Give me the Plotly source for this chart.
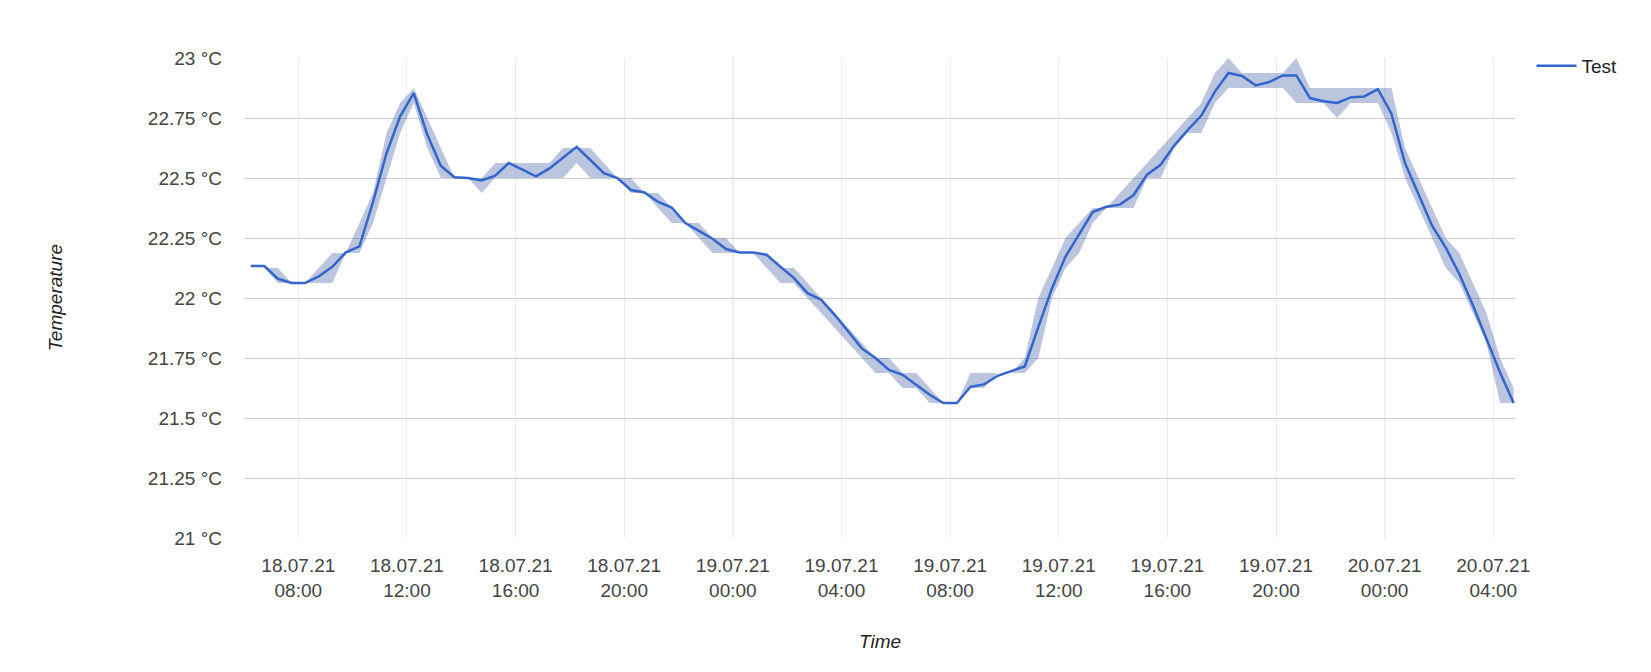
import pandas as pd
import plotly.graph_objects as go

start_time = "2021-07-18 06:15"
step = "30min"

avg_temp = [
    22.133, 22.133, 22.08, 22.0625, 22.0625, 22.09, 22.13, 22.19, 22.215, 22.40,
    22.604, 22.757, 22.854, 22.68, 22.55, 22.503, 22.50, 22.49, 22.51, 22.5625,
    22.535, 22.507, 22.54, 22.585, 22.63, 22.575, 22.52, 22.50, 22.45, 22.44,
    22.40, 22.377, 22.3125, 22.28, 22.247, 22.204, 22.19, 22.19, 22.18, 22.13,
    22.083, 22.02, 21.993, 21.93, 21.86, 21.79, 21.75, 21.70, 21.68, 21.64,
    21.597, 21.5625, 21.5625, 21.63, 21.64, 21.676, 21.694, 21.715, 21.88, 22.04,
    22.173, 22.264, 22.358, 22.38, 22.389, 22.428, 22.514, 22.555, 22.635, 22.70,
    22.76, 22.86, 22.9375, 22.925, 22.886, 22.90, 22.9275, 22.9275, 22.833, 22.82,
    22.8125, 22.836, 22.84, 22.87, 22.768, 22.5625, 22.43, 22.30, 22.21, 22.10,
    21.97, 21.83, 21.69, 21.5625,
]

min_temp = [
    22.125, 22.125, 22.0625, 22.0625, 22.0625, 22.0625, 22.0625, 22.1875, 22.1875, 22.3125,
    22.5, 22.6875, 22.8125, 22.625, 22.5, 22.5, 22.5, 22.4375, 22.5, 22.5,
    22.5, 22.5, 22.5, 22.5, 22.5625, 22.5, 22.5, 22.5, 22.4375, 22.4375,
    22.375, 22.3125, 22.3125, 22.25, 22.1875, 22.1875, 22.1875, 22.1875, 22.125, 22.0625,
    22.0625, 22.0, 21.9375, 21.875, 21.8125, 21.75, 21.6875, 21.6875, 21.625, 21.625,
    21.5625, 21.5625, 21.5625, 21.625, 21.625, 21.6875, 21.6875, 21.6875, 21.75, 22.0,
    22.125, 22.1875, 22.3125, 22.375, 22.375, 22.375, 22.5, 22.5, 22.625, 22.6875,
    22.6875, 22.8125, 22.875, 22.875, 22.875, 22.875, 22.875, 22.8125, 22.8125, 22.8125,
    22.75, 22.8125, 22.8125, 22.8125, 22.6875, 22.5, 22.375, 22.25, 22.125, 22.0625,
    21.9375, 21.8125, 21.5625, 21.5625,
]

max_temp = [
    22.125, 22.125, 22.125, 22.0625, 22.0625, 22.125, 22.1875, 22.1875, 22.3125, 22.4375,
    22.6875, 22.8125, 22.875, 22.75, 22.625, 22.5, 22.5, 22.5, 22.5625, 22.5625,
    22.5625, 22.5625, 22.5625, 22.625, 22.625, 22.625, 22.5625, 22.5, 22.5, 22.4375,
    22.4375, 22.375, 22.3125, 22.3125, 22.25, 22.25, 22.1875, 22.1875, 22.1875, 22.125,
    22.125, 22.0625, 22.0, 21.9375, 21.875, 21.8125, 21.75, 21.75, 21.6875, 21.6875,
    21.625, 21.5625, 21.5625, 21.6875, 21.6875, 21.6875, 21.6875, 21.75, 22.0, 22.125,
    22.25, 22.3125, 22.375, 22.375, 22.4375, 22.5, 22.5625, 22.625, 22.6875, 22.75,
    22.8125, 22.9375, 23.0, 22.9375, 22.9375, 22.9375, 22.9375, 23.0, 22.875, 22.875,
    22.875, 22.875, 22.875, 22.875, 22.875, 22.625, 22.5, 22.375, 22.25, 22.1875,
    22.0625, 21.9375, 21.75, 21.625,
]

tick_times = [
    "2021-07-18 08:00", "2021-07-18 12:00", "2021-07-18 16:00", "2021-07-18 20:00",
    "2021-07-19 00:00", "2021-07-19 04:00", "2021-07-19 08:00", "2021-07-19 12:00",
    "2021-07-19 16:00", "2021-07-19 20:00", "2021-07-20 00:00", "2021-07-20 04:00",
]
tick_labels = [
    "18.07.21<br>08:00", "18.07.21<br>12:00", "18.07.21<br>16:00", "18.07.21<br>20:00",
    "19.07.21<br>00:00", "19.07.21<br>04:00", "19.07.21<br>08:00", "19.07.21<br>12:00",
    "19.07.21<br>16:00", "19.07.21<br>20:00", "20.07.21<br>00:00", "20.07.21<br>04:00",
]
midnights = ["2021-07-19 00:00", "2021-07-20 00:00"]

y_ticks = [21, 21.25, 21.5, 21.75, 22, 22.25, 22.5, 22.75, 23]
y_labels = ["21 °C", "21.25 °C", "21.5 °C", "21.75 °C", "22 °C", "22.25 °C", "22.5 °C", "22.75 °C", "23 °C"]

times = pd.date_range(start=start_time, periods=len(avg_temp), freq=step)

FONT = "Arial, 'Liberation Sans', sans-serif"
FS = 19
LINE_COLOR = "#3366cc"
BAND_COLOR = "rgba(60,90,160,0.35)"

fig = go.Figure()
fig.add_trace(go.Scatter(x=times, y=min_temp, mode="lines", line=dict(width=0),
                         showlegend=False, hoverinfo="skip"))
fig.add_trace(go.Scatter(x=times, y=max_temp, mode="lines", line=dict(width=0),
                         fill="tonexty", fillcolor=BAND_COLOR,
                         showlegend=False, hoverinfo="skip"))
fig.add_trace(go.Scatter(x=times, y=avg_temp, mode="lines", name="Test",
                         line=dict(color=LINE_COLOR, width=2.5)))

for m in midnights:
    fig.add_shape(type="line", xref="x", yref="paper", x0=m, x1=m, y0=0, y1=1,
                  line=dict(color="#cccccc", width=1), layer="below")

# page body has an 8px margin; compensate
W, H = 1635, 656
L, T = 236, 50
pw, ph = 1271, 480
R = W - L - pw
B = H - T - ph

fig.update_layout(
    width=W, height=H,
    margin=dict(l=L, r=R, t=T, b=B, pad=0),
    paper_bgcolor="white", plot_bgcolor="white",
    font=dict(family=FONT, size=FS, color="#444444"),
    showlegend=True,
    legend=dict(x=1.013, xanchor="left", y=1.023, yanchor="top",
                font=dict(family=FONT, size=FS, color="#222222"),
                bgcolor="rgba(0,0,0,0)", itemwidth=40, tracegroupgap=0),
    xaxis=dict(
        type="date",
        range=["2021-07-18 06:00", "2021-07-20 04:48"],
        tickmode="array", tickvals=tick_times, ticktext=tick_labels,
        showgrid=True, gridcolor="#ebebeb", gridwidth=1,
        zeroline=False, showline=False, ticks="",
        ticklabelstandoff=14,
        tickfont=dict(family=FONT, size=FS, color="#444444"),
    ),
    yaxis=dict(
        range=[21, 23],
        tickmode="array", tickvals=y_ticks, ticktext=y_labels,
        showgrid=True, gridcolor="#cccccc", gridwidth=1,
        zeroline=False, showline=False, ticks="",
        ticklabelstandoff=21,
        tickfont=dict(family=FONT, size=FS, color="#444444"),
    ),
    annotations=[
        dict(text="Temperature", xref="paper", yref="paper",
             x=(55 - 244) / pw, y=0.5, textangle=-90, showarrow=False,
             font=dict(family=FONT, size=FS, color="#222222", style="italic"),
             xanchor="center", yanchor="middle"),
        dict(text="Time", xref="paper", yref="paper",
             x=0.5, y=-(641 - 538) / ph, showarrow=False,
             font=dict(family=FONT, size=FS, color="#222222", style="italic"),
             xanchor="center", yanchor="middle"),
    ],
)

fig.write_html("out.html")
